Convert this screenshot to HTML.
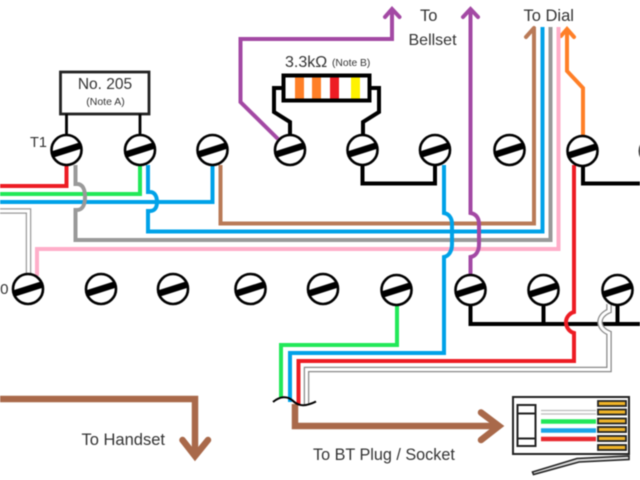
<!DOCTYPE html>
<html><head><meta charset="utf-8"><style>
html,body{margin:0;padding:0;background:#fff;width:640px;height:480px;overflow:hidden}
svg{display:block;filter:blur(0.4px)}
text{font-family:"Liberation Sans",sans-serif;fill:#333}
.w{fill:none;stroke-linejoin:miter}
</style></head><body>
<svg width="640" height="480" viewBox="0 0 640 480" xmlns="http://www.w3.org/2000/svg">
<defs>
<g id="s"><circle r="15" fill="#fff" stroke="#000" stroke-width="2.6"/><line x1="-14.5" y1="4.6" x2="14.5" y2="-4.6" stroke="#000" stroke-width="6.5"/></g>
</defs>
<g class="w" stroke-width="4">
<!-- left white wire -->
<path d="M0 211H28.5V276" stroke="#999" stroke-width="5.5"/><path d="M0 211H28.5V276" stroke="#fff" stroke-width="3"/>
<!-- orange (under pink) -->
<path d="M583 137V88L567 71V29" stroke="#ff7f27"/>
<path d="M561 36L567 29L574 37" stroke="#ff7f27" stroke-linecap="round"/>
<!-- pink -->
<path d="M37 276V249H558.500V27" stroke="#ffaec9"/>
<!-- horizontal left wires -->
<path d="M0 186H66.500V165" stroke="#ed1c24"/>
<path d="M0 194H140V165" stroke="#22e858"/>
<path d="M0 202H212.500V165" stroke="#00a2e8"/>
<!-- gray -->
<path d="M75.500 165V184H77C83 184 85 190 85 197C85 204 83 210 77 210H75.500V240H550.500V27" stroke="#999"/>
<!-- blue to dial -->
<path d="M148 165V192H150C155 192 157 197 157 202C157 207 155 211 150 211H148V231.500H542.500V27" stroke="#00a2e8"/>
<!-- brown to dial -->
<path d="M220.500 165V223.500H534V29" stroke="#b97a57"/>
<path d="M526 37L534 28" stroke="#b97a57" stroke-linecap="round"/>
<!-- blue terminal to bottom -->
<path d="M444 165V213C449 214 452 218 452 224V244C452 251 449 256 444 257V353H290V402" stroke="#00a2e8"/>
<!-- purple -->
<path d="M470.500 276V257C476 256 479 251 479 244V224C479 218 476 214 470.500 213V10" stroke="#a349a4"/>
<path d="M463 17L470.500 9L478 17" stroke="#a349a4" stroke-linecap="round"/>
<path d="M278 139L240.500 102V39H392V10" stroke="#a349a4"/>
<path d="M385 17L392 9L399.500 17" stroke="#a349a4" stroke-linecap="round"/>
<!-- black links -->
<path d="M362.500 165V183.500H435V165" stroke="#000"/>
<path d="M583 165V183.500H640" stroke="#000"/>
<path d="M470.500 305V324H640M543.500 305V324M617.500 305V324" stroke="#000"/>
<!-- red -->
<path d="M574 165V312C570 313 566 317 566 322C566 328 570 332 574 333V361H298.500V404" stroke="#ed1c24"/>
<!-- white wire right -->
<path d="M609 304V311C604 313 600 317 600 322C600 327 604 331 609 333V369.500H306.500V404" stroke="#888" stroke-width="5.500"/>
<path d="M609 304V311C604 313 600 317 600 322C600 327 604 331 609 333V369.500H306.500V404" stroke="#fff" stroke-width="3"/>
<!-- green bottom -->
<path d="M397 305V345H281V398" stroke="#22e858"/>
<!-- brown big -->
<path d="M0 399H195V452" stroke="#a9694a" stroke-width="6.500"/>
<path d="M182.500 440L195 456L208 440" stroke="#a9694a" stroke-width="6.500" stroke-linecap="round"/>
<path d="M295 404V426H497" stroke="#a9694a" stroke-width="6.500"/>
<path d="M481 412.500L499 426L481 440" stroke="#a9694a" stroke-width="6.500" stroke-linecap="round"/>
<!-- squiggle -->
<path d="M273 402C280 396 287 396 292 400C297 405 303 408 316 401.500" stroke="#000" stroke-width="2"/>
</g>
<!-- No. 205 -->
<g fill="none" stroke="#222">
<rect x="60.500" y="72" width="88.500" height="42" fill="#fff" stroke-width="2.8"/>
<path d="M66.500 114V136M140 114V136" stroke="#000" stroke-width="2.800"/>
</g>
<text x="105" y="89" font-size="15.500" text-anchor="middle">No. 205</text>
<text x="105.500" y="105" font-size="10.500" text-anchor="middle">(Note A)</text>
<text x="30" y="147" font-size="14.500">T1</text>
<text x="-9" y="294" font-size="15">T0</text>
<!-- resistor -->
<g fill="none" stroke="#000" stroke-width="4">
<path d="M290 136V122L274 112V88H283M363 136V122L379 112V88H370"/>
<rect x="283.500" y="75.500" width="86" height="25" fill="#fff"/>
</g>
<rect x="295" y="77.500" width="9" height="21" fill="#ff7f27"/>
<rect x="312" y="77.500" width="9" height="21" fill="#ff7f27"/>
<rect x="330" y="77.500" width="9" height="21" fill="#ed1c24"/>
<rect x="351" y="77.500" width="9" height="21" fill="#fff200"/>
<text x="285" y="67" font-size="16">3.3kΩ</text>
<text x="332" y="66" font-size="10.300">(Note B)</text>
<!-- labels -->
<text x="420" y="21" font-size="16.500">To</text>
<text x="408.500" y="45" font-size="16">Bellset</text>
<text x="523.500" y="21" font-size="16.500">To Dial</text>
<text x="81.500" y="445" font-size="16.500">To Handset</text>
<text x="313" y="460" font-size="16.200">To BT Plug / Socket</text>
<!-- screws -->
<use href="#s" x="66.500" y="150"/><use href="#s" x="140" y="150"/><use href="#s" x="212.500" y="150"/><use href="#s" x="290" y="150"/><use href="#s" x="362.500" y="150"/><use href="#s" x="435" y="150"/><use href="#s" x="509.500" y="150"/><use href="#s" x="582.500" y="151"/><use href="#s" x="655" y="151"/>
<use href="#s" x="28" y="289"/><use href="#s" x="101" y="289"/><use href="#s" x="173" y="289"/><use href="#s" x="250.500" y="289"/><use href="#s" x="323" y="289"/><use href="#s" x="396.500" y="290"/><use href="#s" x="470.500" y="290"/><use href="#s" x="543.500" y="290"/><use href="#s" x="617.500" y="290"/>
<!-- plug -->
<g fill="none" stroke="#222">
<rect x="513" y="397" width="116" height="57" fill="#fff" stroke-width="2"/>
<rect x="517.500" y="405" width="18" height="41" stroke-width="2"/>
<path d="M517.500 413.500H535.500M517.500 438.500H535.500" stroke-width="2"/>
<path d="M532.500 472L577 458.500L629 456V459.500L579 462L533.500 474.500Z" fill="#ddd" stroke-width="1.600"/>
<g fill="#f0b428" stroke-width="1.800">
<rect x="598" y="401" width="28" height="5"/><rect x="598" y="409.500" width="28" height="5"/><rect x="598" y="418.500" width="28" height="5"/><rect x="598" y="427" width="28" height="5"/><rect x="598" y="436" width="28" height="5"/><rect x="598" y="445" width="28" height="5"/>
</g>
<path d="M541 410.500H596M541 414H596" stroke="#bbb" stroke-width="1.300"/>
<path d="M541 421.500H596" stroke="#22e858" stroke-width="4.500"/>
<path d="M541 430.500H596" stroke="#1aa5e8" stroke-width="4.500"/>
<path d="M541 439H596" stroke="#e8282f" stroke-width="4.500"/>
</g>
</svg>
</body></html>
